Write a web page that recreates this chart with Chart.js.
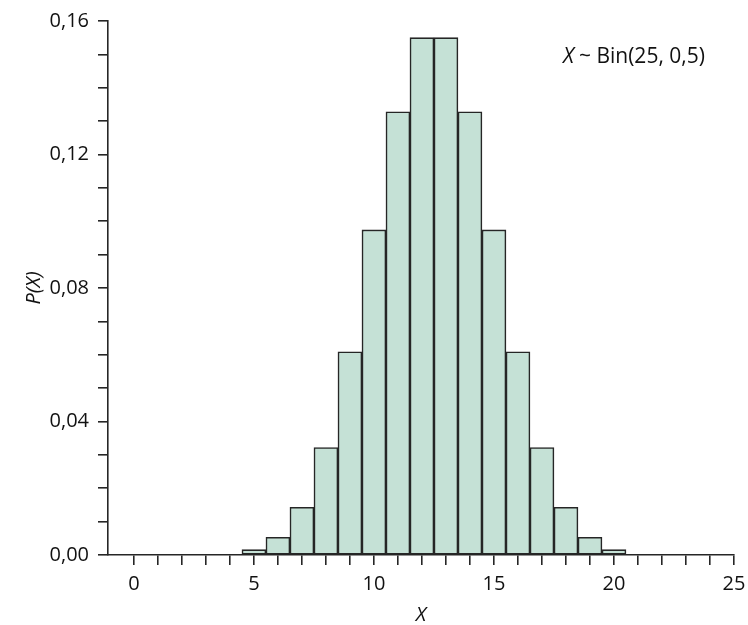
<!DOCTYPE html>
<html>
<head>
<meta charset="utf-8">
<script src="https://cdn.jsdelivr.net/npm/chart.js@4"></script>
<style>
  html, body { margin: 0; padding: 0; background: #fff; }
  #wrap { width: 748px; height: 625px; }
</style>
</head>
<body>
<div id="wrap"><canvas id="binomChart" width="748" height="625"></canvas></div>
<script>
// values
const xValues = [5, 6, 7, 8, 9, 10, 11, 12, 13, 14, 15, 16, 17, 18, 19, 20];
const probValues = [0.0016, 0.0053, 0.0143, 0.0322, 0.0609, 0.0974, 0.1328, 0.155,
                    0.155, 0.1328, 0.0974, 0.0609, 0.0322, 0.0143, 0.0053, 0.0016];
const xTicks = [0,1,2,3,4,5,6,7,8,9,10,11,12,13,14,15,16,17,18,19,20,21,22,23,24,25];
const xTickLabels = ['0', '5', '10', '15', '20', '25'];
const yTickLabels = ['0,00', '0,04', '0,08', '0,12', '0,16'];

const fontFamily = "'Open Sans', 'Noto Sans', sans-serif";
const inkColor = '#111111';
const axisColor = '#262626';

const annotationPlugin = {
  id: 'annotation',
  afterDraw(chart) {
    const ctx = chart.ctx;
    ctx.save();
    ctx.fillStyle = inkColor;
    ctx.textBaseline = 'middle';
    let x = 563;
    const y = 57;
    ctx.font = 'italic 21px ' + fontFamily;
    ctx.fillText('X', x, y);
    x += ctx.measureText('X').width + 5;
    ctx.font = '21px ' + fontFamily;
    ctx.fillText('~ Bin(25, 0,5)', x, y);
    ctx.restore();
  }
};

const ctx = document.getElementById('binomChart').getContext('2d');
const chart = new Chart(ctx, {
  type: 'bar',
  data: {
    datasets: [{
      data: xValues.map((x, i) => ({x: x, y: probValues[i]})),
      backgroundColor: '#c5e1d6',
      borderColor: axisColor,
      borderWidth: 1.6,
      borderSkipped: false,
      barPercentage: 1,
      categoryPercentage: 1
    }]
  },
  options: {
    responsive: false,
    animation: false,
    layout: { padding: { left: 0, right: 14, top: 21, bottom: 0 } },
    plugins: { legend: { display: false }, tooltip: { enabled: false } },
    scales: {
      x: {
        type: 'linear',
        offset: false,
        min: -1.08,
        max: 25,
        afterBuildTicks: axis => { axis.ticks = xTicks.map(v => ({value: v})); },
        afterFit: scale => { scale.height = 70; scale.paddingRight = 0; scale.paddingLeft = 0; },
        ticks: {
          autoSkip: false,
          maxRotation: 0,
          padding: 7,
          color: inkColor,
          font: { family: fontFamily, size: 20 },
          callback: v => xTickLabels.includes(String(v)) ? String(v) : ''
        },
        grid: { offset: false, drawOnChartArea: false, drawTicks: true, tickLength: 10, color: axisColor, lineWidth: 1.6 },
        border: { display: true, color: axisColor, width: 1.6 },
        title: {
          display: true,
          text: 'X',
          color: inkColor,
          font: { family: fontFamily, size: 20, style: 'italic', lineHeight: 1 },
          padding: 0
        }
      },
      y: {
        min: 0,
        max: 0.16,
        afterFit: scale => { scale.width = 108; },
        ticks: {
          stepSize: 0.01,
          autoSkip: false,
          padding: 9,
          color: inkColor,
          font: { family: fontFamily, size: 20 },
          callback: v => {
            const s = v.toFixed(2).replace('.', ',');
            return yTickLabels.includes(s) ? s : '';
          }
        },
        grid: { drawOnChartArea: false, drawTicks: true, tickLength: 10, color: axisColor, lineWidth: 1.6 },
        border: { display: true, color: axisColor, width: 1.6 },
        title: {
          display: true,
          text: 'P(X)',
          color: inkColor,
          font: { family: fontFamily, size: 20, style: 'italic', lineHeight: 1.2 },
          padding: { top: 22, bottom: 0 }
        }
      }
    }
  },
  plugins: [annotationPlugin]
});
</script>
</body>
</html>
